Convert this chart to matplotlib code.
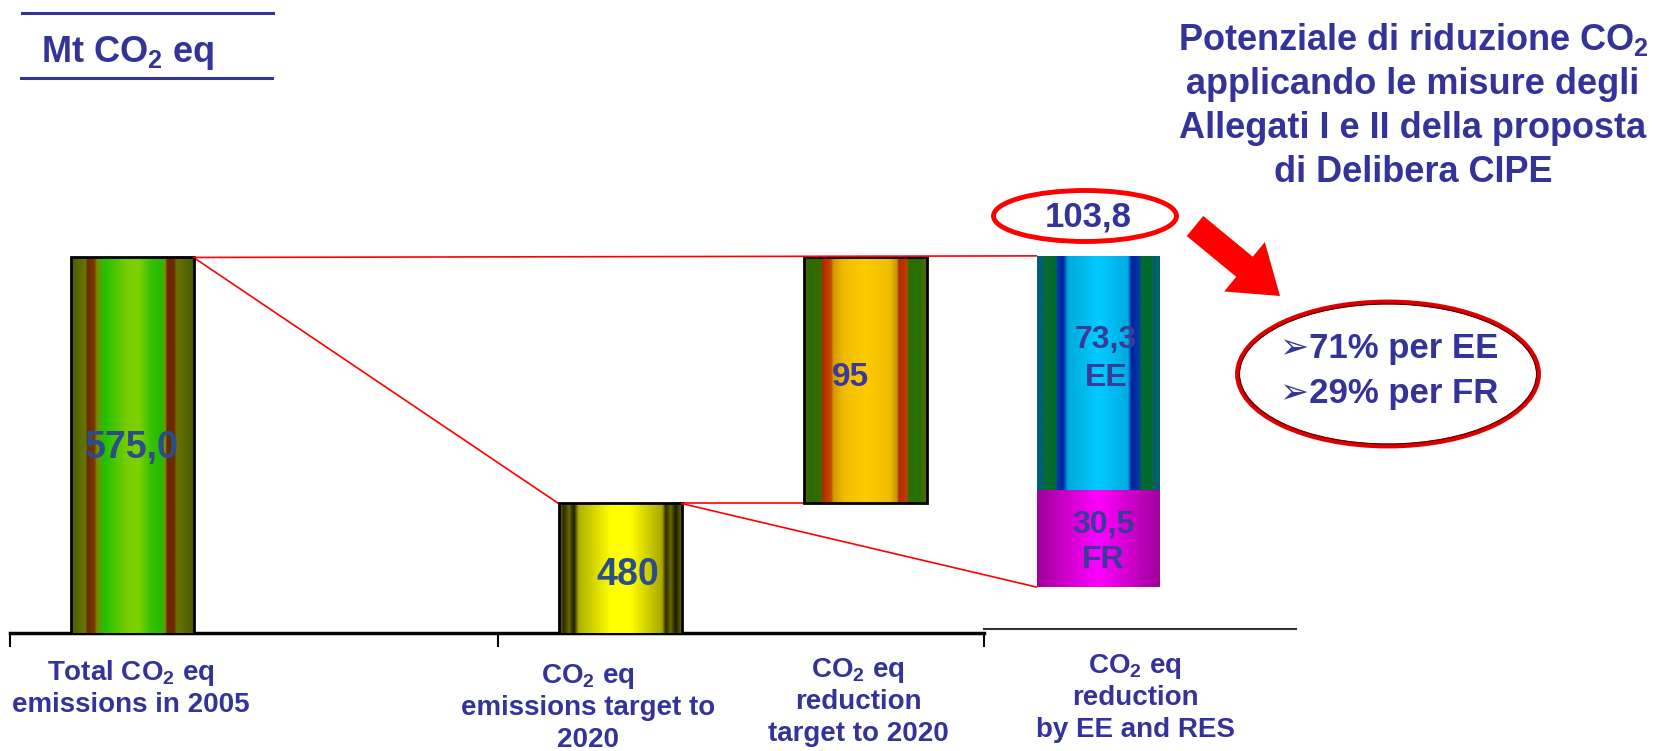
import numpy as np
import matplotlib
matplotlib.use("Agg")
import matplotlib.pyplot as plt
from matplotlib.colors import to_rgb
from matplotlib.patches import Ellipse, FancyArrow, ConnectionPatch

plt.rcParams['font.family'] = ['Liberation Sans', 'DejaVu Sans']
plt.rcParams['font.weight'] = 'bold'
plt.rcParams['mathtext.fontset'] = 'custom'
plt.rcParams['mathtext.rm'] = 'Liberation Sans:bold'
plt.rcParams['mathtext.it'] = 'Liberation Sans:bold'
plt.rcParams['mathtext.bf'] = 'Liberation Sans:bold'

# data (Mt CO2 eq)
categories = [["Total CO$_2$ eq", "emissions in 2005"],
              ["CO$_2$ eq", "emissions target to", "2020"],
              ["CO$_2$ eq", "reduction", "target to 2020"],
              ["CO$_2$ eq", "reduction", "by EE and RES"]]
total_2005 = 575.0
target_2020 = 480
reduction_target = 95
ee_reduction = 73.3
fr_reduction = 30.5

NAVY = "#333399"
VALBLUE = "#2b4d8a"

# layout (pixel-like x positions)
xpos = [132, 620, 865, 1098]
bw = 123
YLIM = (430, 674.4)
YLIM4 = (-14.4, 184.0)

fig = plt.figure(figsize=(16.63, 7.51), dpi=100)
ax = fig.add_axes([10/1663, 118/751, 1286/1663, 633/751])
ax4 = ax.twinx()


def stripes(stops):
    pos = [p for p, _ in stops]
    cols = np.array([to_rgb(c) for _, c in stops])
    t = np.linspace(0, 1, 300)
    img = np.stack([np.interp(t, pos, cols[:, k]) for k in range(3)], axis=-1)
    return img[None, :, :]


def textured(axis, x, h, bottom, stops, ymin, edge=True):
    r = axis.bar(x, h, bottom=bottom, width=bw, facecolor='none',
                 edgecolor='black' if edge else 'none', linewidth=2, zorder=4)[0]
    y0 = max(bottom, ymin)
    im = axis.imshow(stripes(stops), extent=(x - bw/2, x + bw/2, y0, bottom + h),
                     aspect='auto', zorder=3, interpolation='bilinear')
    im.set_clip_path(r)
    return r


green = [(0, "#4a5c00"), (0.12, "#677600"), (0.13, "#6b2a00"), (0.19, "#7a3a00"),
         (0.21, "#7a8c00"), (0.27, "#22c000"), (0.45, "#76cc00"), (0.55, "#7ed200"),
         (0.65, "#38c000"), (0.74, "#22bb00"), (0.77, "#8a8a00"), (0.78, "#6b2a00"),
         (0.84, "#6b2a00"), (0.86, "#687400"), (1, "#4a5a00")]
yellow = [(0, "#6a6a00"), (0.04, "#2a2a00"), (0.08, "#6a6a00"), (0.12, "#1a1a00"),
          (0.16, "#b0b000"), (0.42, "#ffff00"), (0.58, "#ffff00"), (0.84, "#a8a800"),
          (0.87, "#2a2a00"), (0.91, "#6a6a00"), (0.95, "#1a1a00"), (1, "#6a6a00")]
orange = [(0, "#6b6000"), (0.04, "#2a6a00"), (0.14, "#3a6a00"), (0.15, "#b02800"),
          (0.22, "#c84a00"), (0.24, "#d09a00"), (0.32, "#f0bc00"), (0.5, "#ffcc00"),
          (0.7, "#f0bc00"), (0.76, "#c09000"), (0.77, "#b02800"), (0.84, "#c04000"),
          (0.85, "#2a7000"), (0.95, "#2a7000"), (1, "#6b6000")]
cyan = [(0, "#005f70"), (0.05, "#006070"), (0.06, "#0a6a30"), (0.15, "#006a2a"),
        (0.16, "#0040a0"), (0.21, "#0020a0"), (0.25, "#00a8dc"), (0.5, "#00ccff"),
        (0.74, "#00aae0"), (0.77, "#0020a0"), (0.84, "#0040a0"), (0.85, "#006a2a"),
        (0.94, "#006a2a"), (0.95, "#006070"), (1, "#005f70")]
magenta = [(0, "#a0009c"), (0.5, "#ff00ff"), (1, "#a0009c")]

textured(ax, xpos[0], total_2005, 0, green, YLIM[0])
textured(ax, xpos[1], target_2020, 0, yellow, YLIM[0])
textured(ax, xpos[2], reduction_target, target_2020, orange, YLIM[0])
textured(ax4, xpos[3], fr_reduction, 0, magenta, YLIM4[0], edge=False)
textured(ax4, xpos[3], ee_reduction, fr_reduction, cyan, YLIM4[0], edge=False)

# red connector lines
ax.plot([xpos[0] + bw/2 - 30, xpos[0] + bw/2, xpos[1] - bw/2],
        [total_2005, total_2005, target_2020], color='red', lw=1.2, zorder=2)
ax.plot([xpos[1] + bw/2 - 5, xpos[2] - bw/2], [target_2020, target_2020],
        color='red', lw=1.2, zorder=2)
for (xa, ya, xb, yb) in [(xpos[0] + bw/2, total_2005, xpos[3] - bw/2, ee_reduction + fr_reduction),
                         (xpos[1] + bw/2, target_2020, xpos[3] - bw/2, 0)]:
    cp = ConnectionPatch((xa, ya), (xb, yb), coordsA=ax.transData, coordsB=ax4.transData,
                         color='red', lw=1.2, zorder=2)
    fig.add_artist(cp)

# value labels
lbl = dict(fontweight='bold', ha='center', va='center', zorder=6)
ax.text(xpos[0], (YLIM[0] + total_2005) / 2 - 1, f"{total_2005:.1f}".replace('.', ','),
        color=VALBLUE, fontsize=27, **lbl)
ax.text(xpos[1] + 8, (YLIM[0] + target_2020) / 2 - 2.5, f"{target_2020}", color=VALBLUE,
        fontsize=27, **lbl)
ax.text(xpos[2] - 15, target_2020 + reduction_target / 2 + 1, f"{reduction_target}",
        color="#3a3a9e", fontsize=24, **lbl)
ax4.text(xpos[3] + 8, fr_reduction + ee_reduction * 0.56,
         f"{ee_reduction:.1f}".replace('.', ',') + "\nEE", color="#3a3a9a", fontsize=23,
         linespacing=1.35, **lbl)
ax4.text(xpos[3] + 5, fr_reduction / 2 - 1.3, f"{fr_reduction:.1f}".replace('.', ',') + "\nFR",
         color="#3a3a9a", fontsize=23, linespacing=1.25, **lbl)

# axis styling
for s in ['top', 'left', 'right']:
    ax.spines[s].set_visible(False)
ax.spines['bottom'].set_bounds(10, 984)
ax.spines['bottom'].set_linewidth(2.5)
ax.set_xticks([10, 498, 984])
ax.tick_params(axis='x', direction='out', length=10, width=1.5, labelbottom=False)
ax.set_yticks([])
ax.axhline(431.5, xmin=(984 - 10) / 1286, xmax=1, color='#333333', lw=1.5, clip_on=False)
ax4.axis('off')
ax.set_xlim(10, 1296)
ax.set_ylim(*YLIM)
ax4.set_ylim(*YLIM4)

# overlay in pixel coordinates
ov = fig.add_axes([0, 0, 1, 1], zorder=10)
ov.set_xlim(0, 1663)
ov.set_ylim(751, 0)
ov.axis('off')

lab_x = [131, 588, 858, 1135]
lab_y = [680, 683, 677, 673]
for lines, lx, ly in zip(categories, lab_x, lab_y):
    for j, line in enumerate(lines):
        ov.text(lx, ly + 32 * j, line, ha='center', va='baseline', fontsize=20, color=NAVY)

ov.plot([22, 273], [13, 13], color=NAVY, lw=2.2)
ov.plot([21, 272], [78, 78], color=NAVY, lw=2.2)
ov.text(41, 62, "Mt CO$_2$ eq", fontsize=26, color=NAVY, ha='left', va='baseline')

title = ["Potenziale di riduzione CO$_2$", "applicando le misure degli",
         "Allegati I e II della proposta", "di Delibera CIPE"]
for i, line in enumerate(title):
    ov.text(1413, 50 + 44 * i, line, fontsize=26, color=NAVY, ha='center', va='baseline')

total_red = ee_reduction + fr_reduction
ov.add_patch(Ellipse((1085, 216), 183, 51, fill=False, edgecolor='red', lw=3.5))
ov.text(1088, 227, f"{total_red:.1f}".replace('.', ','), fontsize=25, color=NAVY,
        ha='center', va='baseline')

ov.add_patch(FancyArrow(1195, 226, 85, 70, width=26, head_width=64, head_length=46,
                        length_includes_head=True, color='red', lw=0))

ov.add_patch(Ellipse((1388, 374), 301, 144, fill=False, edgecolor='#dd0000', lw=3.5))
ov.add_patch(Ellipse((1388, 374), 297, 140, fill=False, edgecolor='#5a0000', lw=0.8))
pct_ee = round(100 * ee_reduction / total_red)
pct_fr = round(100 * fr_reduction / total_red)
ov.text(1280, 358, f"➢{pct_ee}% per EE", fontsize=25, color=NAVY, ha='left', va='baseline')
ov.text(1280, 403, f"➢{pct_fr}% per FR", fontsize=25, color=NAVY, ha='left', va='baseline')

fig.savefig("out.png", dpi=100)
